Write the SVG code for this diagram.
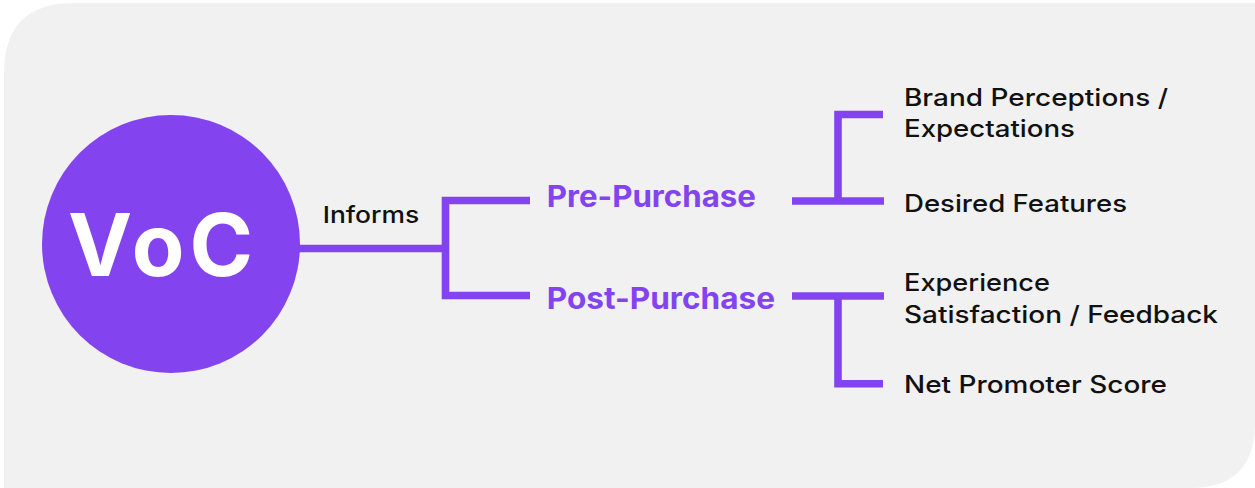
<svg xmlns="http://www.w3.org/2000/svg" width="1255" height="488" viewBox="0 0 1255 488">
  <style>
    .conn { fill: none; stroke: #8344EF; stroke-width: 7.6; stroke-linecap: butt; stroke-linejoin: miter; }
    .lbl { font-family: Inter, "Liberation Sans", sans-serif; font-weight: 500; font-size: 24px; fill: #111111; }
    .phase { font-family: Inter, "Liberation Sans", sans-serif; font-weight: 700; font-size: 30px; fill: #8344EF; }
  </style>
  <rect width="1255" height="488" fill="#ffffff"/>
  <path id="background" d="M4,488 L4,73 Q4,3 74,3 L1255,3 L1255,423 Q1255,488 1190,488 Z" fill="#f1f1f1"/>
  <g id="connectors">
    <path class="conn" d="M298,248.5 H445.5"/>
    <path class="conn" d="M530,200.5 H445.5 V295.5 H530"/>
    <path class="conn" d="M883,114.5 H838 V201"/>
    <path class="conn" d="M792,201 H884"/>
    <path class="conn" d="M792,296 H884"/>
    <path class="conn" d="M838,296 V383.7 H883"/>
  </g>
  <g id="voc">
    <circle cx="171" cy="244" r="129" fill="#8344EF"/>
    <text x="68" y="276" textLength="185" lengthAdjust="spacing" font-family="Inter, 'Liberation Sans', sans-serif" font-weight="700" font-size="86" fill="#ffffff">VoC</text>
  </g>
  <g id="informs">
    <text class="lbl" x="322.7" y="223.3" textLength="96.6" lengthAdjust="spacingAndGlyphs" style="font-size:23px">Informs</text>
  </g>
  <g id="pre-purchase">
    <text class="phase" x="546.7" y="207.3" textLength="209.3" lengthAdjust="spacingAndGlyphs">Pre-Purchase</text>
  </g>
  <g id="post-purchase">
    <text class="phase" x="546.7" y="309.3" textLength="228.3" lengthAdjust="spacingAndGlyphs">Post-Purchase</text>
  </g>
  <g id="brand-perceptions">
    <text class="lbl" x="904" y="106" textLength="264" lengthAdjust="spacingAndGlyphs">Brand Perceptions /</text>
    <text class="lbl" x="904" y="137.3" textLength="171" lengthAdjust="spacingAndGlyphs">Expectations</text>
  </g>
  <g id="desired-features">
    <text class="lbl" x="904" y="211.7" textLength="223" lengthAdjust="spacingAndGlyphs">Desired Features</text>
  </g>
  <g id="experience-satisfaction">
    <text class="lbl" x="904" y="290.7" textLength="146" lengthAdjust="spacingAndGlyphs">Experience</text>
    <text class="lbl" x="904" y="322.7" textLength="314" lengthAdjust="spacingAndGlyphs">Satisfaction / Feedback</text>
  </g>
  <g id="nps">
    <text class="lbl" x="904" y="393.3" textLength="263" lengthAdjust="spacingAndGlyphs">Net Promoter Score</text>
  </g>
</svg>
